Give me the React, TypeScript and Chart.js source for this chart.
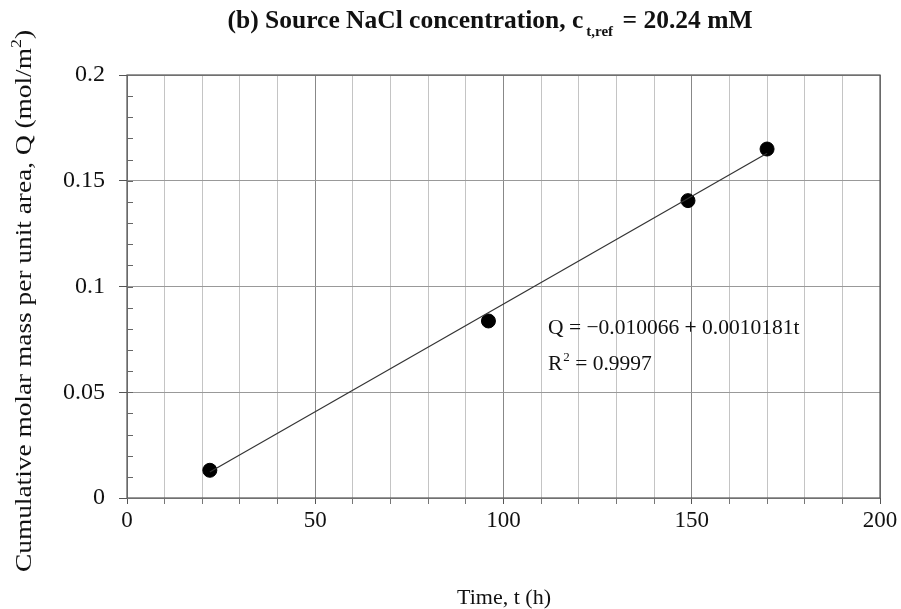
import React, { useEffect, useRef } from "react";
import { Chart, registerables } from "chart.js";

Chart.register(...registerables);

// Measured cumulative molar mass per unit area vs. time
const timeHours = [22, 96, 149, 170];
const molarMass = [0.0131, 0.0837, 0.1406, 0.165];

// Linear fit reported on the chart
const fitIntercept = -0.010066;
const fitSlope = 0.0010181;
const fitLabel = "Q = \u22120.010066 + 0.0010181t";
const fitR2Value = "0.9997";

const xTickLabels = ["0", "50", "100", "150", "200"];
const yTickLabels = ["0", "0.05", "0.1", "0.15", "0.2"];

const SERIF = '"Liberation Serif", "DejaVu Serif", serif';

const textPlugin = {
  id: "textPlugin",
  beforeDraw(chart: any) {
    const { ctx } = chart;
    ctx.save();
    ctx.fillStyle = "#fff";
    ctx.fillRect(0, 0, chart.width, chart.height);
    ctx.restore();
  },
  afterDraw(chart: any) {
    const { ctx, chartArea, scales } = chart;
    const { left, right, top, bottom } = chartArea;
    ctx.save();

    // plot frame
    ctx.strokeStyle = "#555";
    ctx.lineWidth = 1.2;
    ctx.strokeRect(left, top, right - left, bottom - top);

    // minor y ticks inside the frame
    ctx.strokeStyle = "#666";
    ctx.lineWidth = 1;
    for (let v = 0.01; v < 0.2; v += 0.01) {
      const y = Math.round(scales.y.getPixelForValue(v)) + 0.5;
      ctx.beginPath();
      ctx.moveTo(left, y);
      ctx.lineTo(left + 6, y);
      ctx.stroke();
    }

    ctx.fillStyle = "#111";
    ctx.textBaseline = "alphabetic";

    // title with subscript
    const tMain1 = "(b) Source NaCl concentration, c";
    const tSub = "t,ref";
    const tMain2 = " = 20.24 mM";
    const fMain = `bold 25.5px ${SERIF}`;
    const fSub = `bold 15px ${SERIF}`;
    ctx.font = fMain;
    const w1 = ctx.measureText(tMain1).width;
    const w3 = ctx.measureText(tMain2).width;
    ctx.font = fSub;
    const w2 = ctx.measureText(tSub).width;
    const total = w1 + w2 + w3 + 6;
    let tx = 490 - total / 2;
    const ty = 28;
    ctx.textAlign = "left";
    ctx.font = fMain;
    ctx.fillText(tMain1, tx, ty);
    tx += w1 + 3;
    ctx.font = fSub;
    ctx.fillText(tSub, tx, ty + 8);
    tx += w2 + 3;
    ctx.font = fMain;
    ctx.fillText(tMain2, tx, ty);

    // x axis title
    ctx.font = `22px ${SERIF}`;
    ctx.textAlign = "center";
    ctx.fillText("Time, t (h)", 504, 604);

    // y axis title, rotated, with superscript
    const yA = "Cumulative molar mass per unit area, Q (mol/m";
    const ySup = "2";
    const yB = ")";
    const fY = `23px ${SERIF}`;
    const fYs = `15px ${SERIF}`;
    ctx.font = fY;
    const a = ctx.measureText(yA).width;
    const c = ctx.measureText(yB).width;
    ctx.font = fYs;
    const b = ctx.measureText(ySup).width;
    const yTotal = a + b + c;
    const stretch = 542 / yTotal;
    ctx.save();
    ctx.translate(31, 301);
    ctx.rotate(-Math.PI / 2);
    ctx.scale(stretch, 1);
    ctx.textAlign = "left";
    let p = -yTotal / 2;
    ctx.font = fY;
    ctx.fillText(yA, p, 0);
    p += a;
    ctx.font = fYs;
    ctx.fillText(ySup, p, -10);
    p += b;
    ctx.font = fY;
    ctx.fillText(yB, p, 0);
    ctx.restore();

    // fit annotation
    ctx.textAlign = "left";
    ctx.font = `21.5px ${SERIF}`;
    ctx.fillText(fitLabel, 548, 334);
    ctx.fillText("R", 548, 370);
    const rw = ctx.measureText("R").width;
    ctx.font = `13px ${SERIF}`;
    ctx.fillText("2", 548 + rw + 1, 361);
    const sw = ctx.measureText("2").width;
    ctx.font = `21.5px ${SERIF}`;
    ctx.fillText(" = " + fitR2Value, 548 + rw + 1 + sw, 370);

    ctx.restore();
  },
};

export default function App() {
  const canvasRef = useRef<HTMLCanvasElement | null>(null);

  useEffect(() => {
    document.body.style.margin = "0";
    const canvas = canvasRef.current;
    if (!canvas) return;

    const t0 = timeHours[0];
    const t1 = timeHours[timeHours.length - 1];
    const fitPoints = [
      { x: t0, y: fitIntercept + fitSlope * t0 },
      { x: t1, y: fitIntercept + fitSlope * t1 },
    ];

    const chart = new Chart(canvas, {
      type: "scatter",
      data: {
        datasets: [
          {
            type: "line",
            data: fitPoints,
            borderColor: "#333",
            borderWidth: 1.2,
            pointRadius: 0,
            fill: false,
          },
          {
            type: "scatter",
            data: timeHours.map((t, i) => ({ x: t, y: molarMass[i] })),
            backgroundColor: "#000",
            borderColor: "#000",
            pointRadius: 7,
          },
        ],
      },
      options: {
        responsive: false,
        animation: false,
        events: [],
        layout: { padding: { top: 75, right: 21, left: 0, bottom: 0 } },
        plugins: {
          legend: { display: false },
          tooltip: { enabled: false },
          title: { display: false },
        },
        scales: {
          x: {
            type: "linear",
            min: 0,
            max: 200,
            afterFit(scale: any) {
              scale.height = 609 - 498;
            },
            ticks: {
              stepSize: 10,
              autoSkip: false,
              maxRotation: 0,
              padding: 3,
              color: "#111",
              font: { family: SERIF, size: 23 },
              callback: (v: any) => {
                const i = xTickLabels.indexOf(String(v));
                return i >= 0 ? xTickLabels[i] : "";
              },
            },
            grid: {
              color: (c: any) =>
                c.tick && c.tick.value % 50 === 0 ? "#888" : "#c4c4c4",
              lineWidth: 1,
              tickLength: 6,
              tickColor: (c: any) =>
                c.tick && c.tick.value % 50 === 0 ? "#555" : "#777",
            },
            border: { display: false },
          },
          y: {
            type: "linear",
            min: 0,
            max: 0.2,
            afterFit(scale: any) {
              scale.width = 127;
            },
            ticks: {
              stepSize: 0.05,
              padding: 14,
              color: "#111",
              font: { family: SERIF, size: 24 },
              callback: (v: any) => {
                const idx = Math.round(Number(v) / 0.05);
                return yTickLabels[idx] ?? "";
              },
            },
            grid: {
              color: "#999",
              lineWidth: 1,
              tickLength: 8,
              tickColor: "#555",
            },
            border: { display: false },
          },
        },
      },
      plugins: [textPlugin],
    } as any);

    return () => chart.destroy();
  }, []);

  return (
    <div style={{ width: 901, height: 609 }}>
      <canvas ref={canvasRef} width={901} height={609} />
    </div>
  );
}
